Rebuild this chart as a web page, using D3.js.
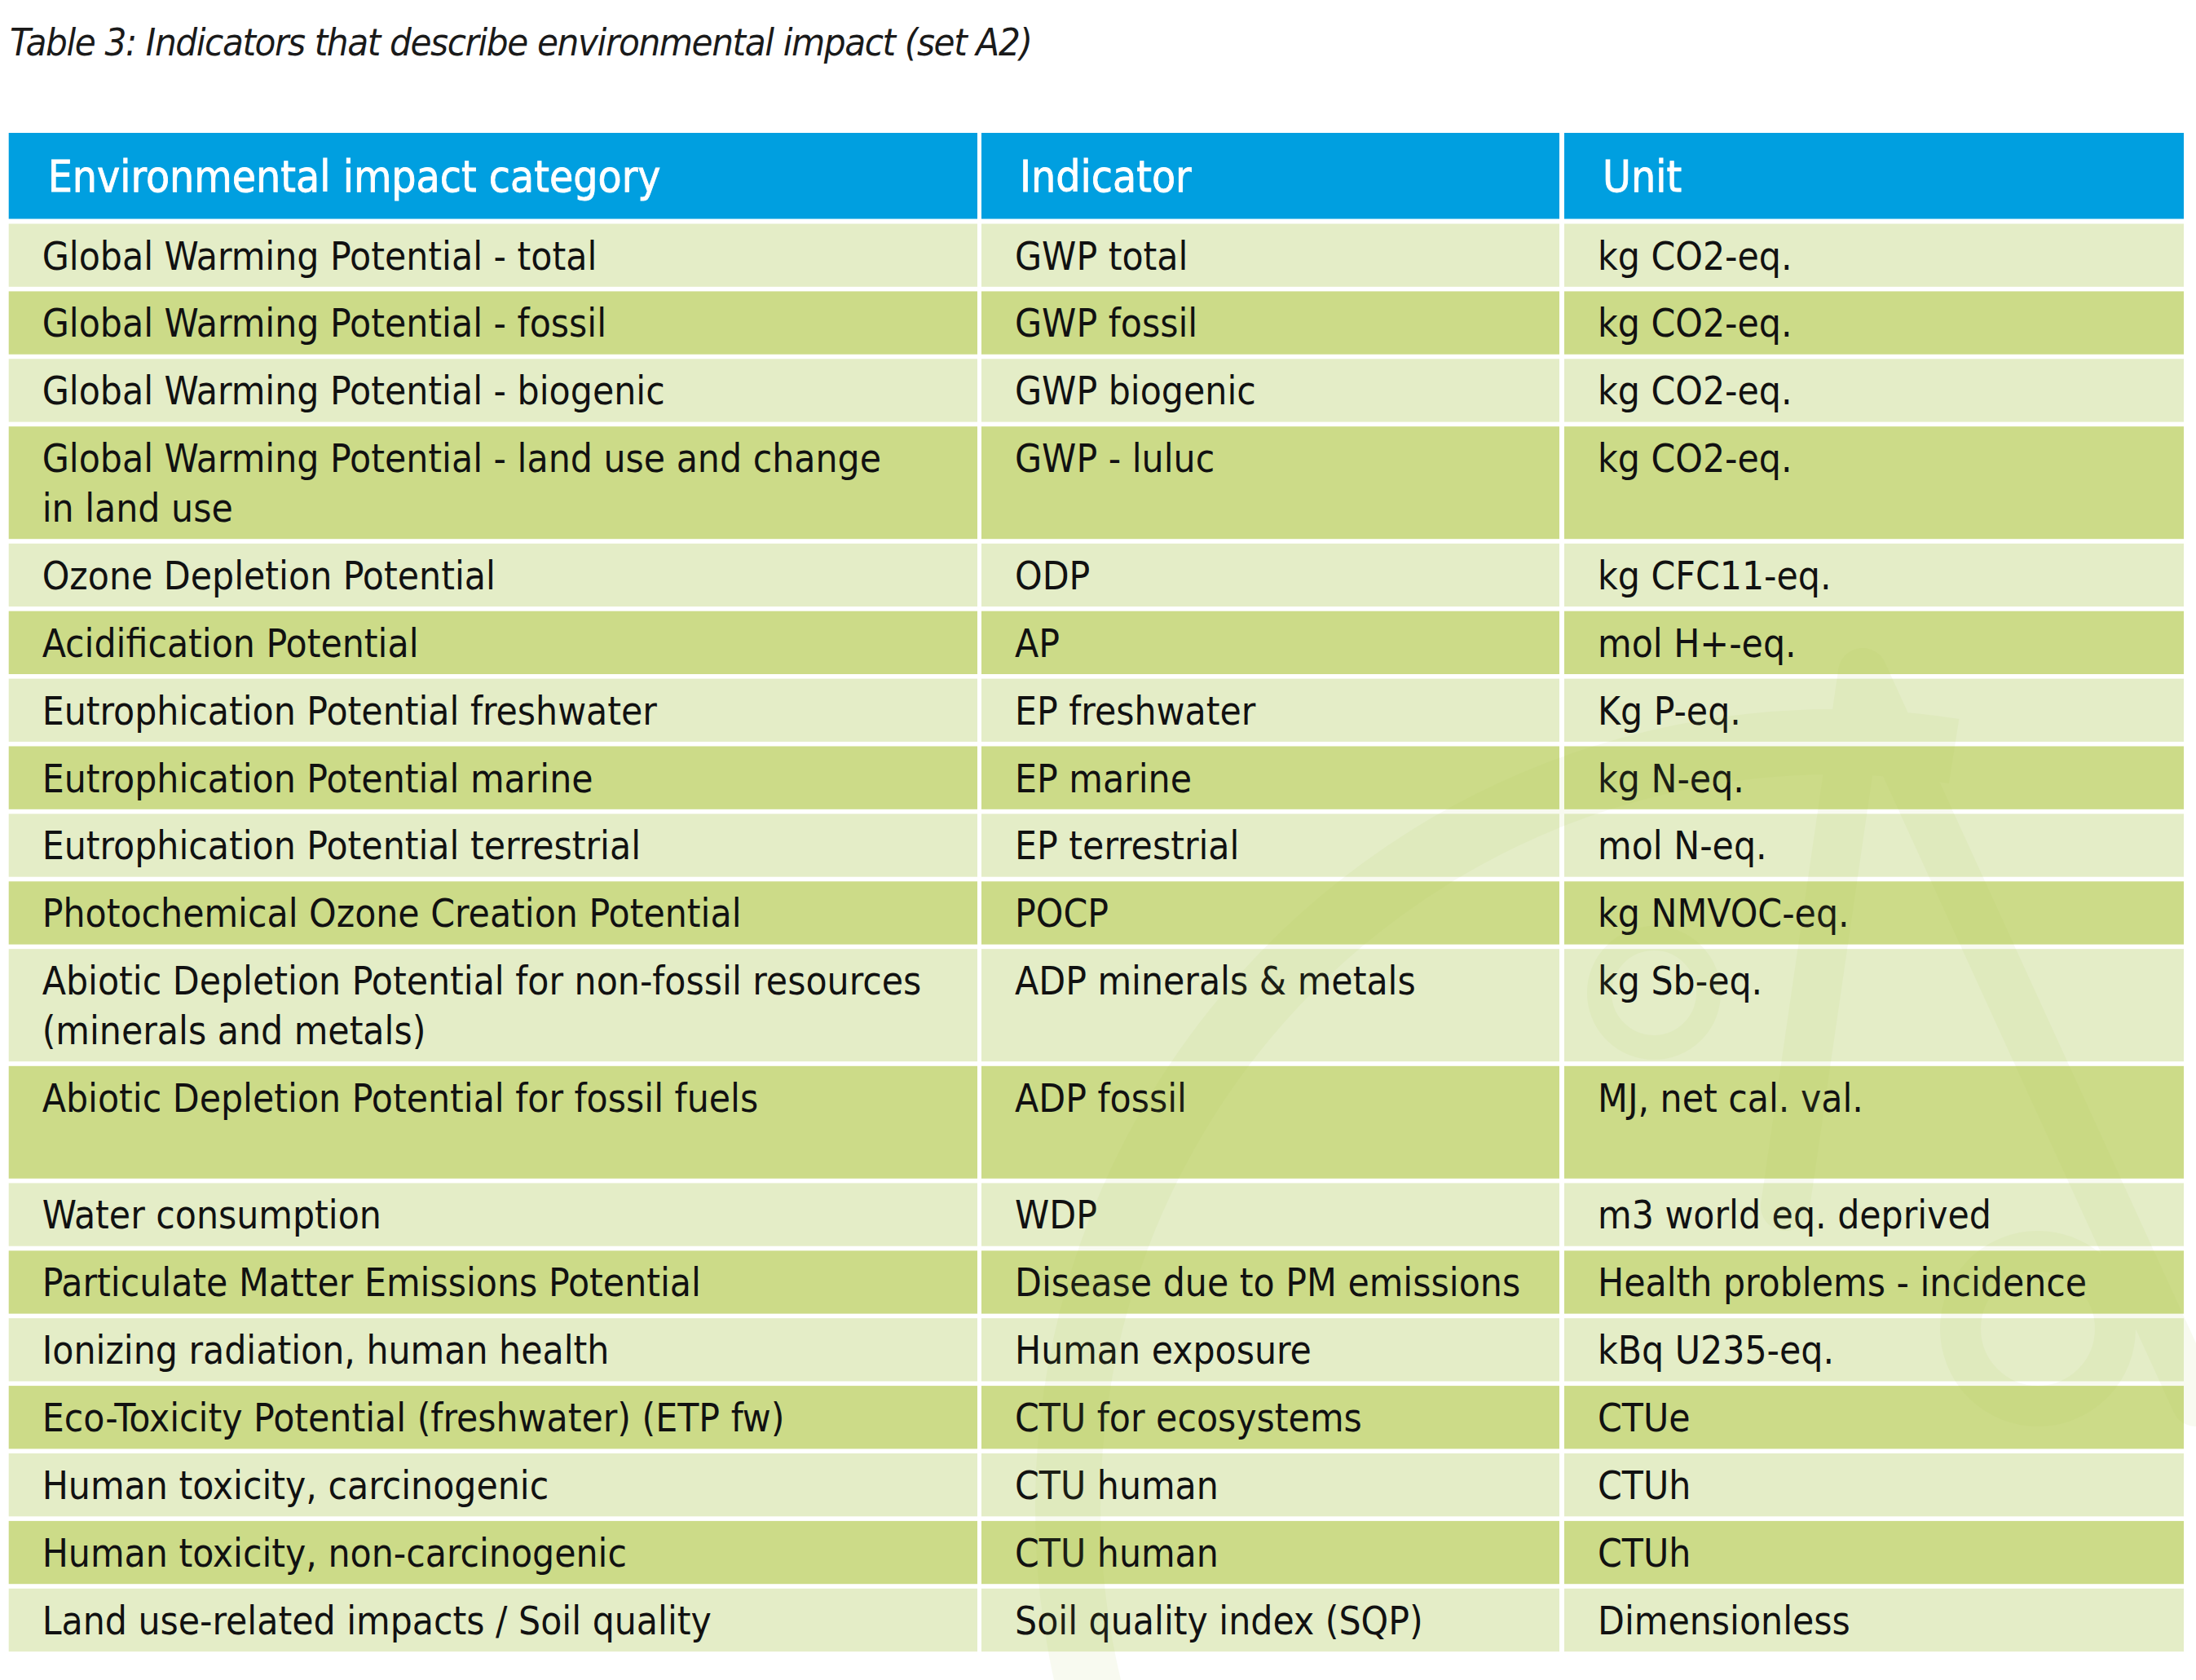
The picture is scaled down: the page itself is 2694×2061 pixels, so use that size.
<!DOCTYPE html>
<html>
<head>
<meta charset="utf-8">
<script src="https://cdn.jsdelivr.net/npm/d3@7"></script>
<style>
  html, body { margin: 0; padding: 0; background: #fff; }
  svg { display: block; }
  .body-text { font-family: "DejaVu Sans Condensed", "DejaVu Sans", sans-serif; font-stretch: condensed; }
</style>
</head>
<body>
<div id="chart"></div>
<script>
// table content
const tableTitle = "Table 3: Indicators that describe environmental impact (set A2)";
const columns = ["Environmental impact category", "Indicator", "Unit"];

const categories = [
  "Global Warming Potential - total",
  "Global Warming Potential - fossil",
  "Global Warming Potential - biogenic",
  "Global Warming Potential - land use and change\nin land use",
  "Ozone Depletion Potential",
  "Acidification Potential",
  "Eutrophication Potential freshwater",
  "Eutrophication Potential marine",
  "Eutrophication Potential terrestrial",
  "Photochemical Ozone Creation Potential",
  "Abiotic Depletion Potential for non-fossil resources\n(minerals and metals)",
  "Abiotic Depletion Potential for fossil fuels\n",
  "Water consumption",
  "Particulate Matter Emissions Potential",
  "Ionizing radiation, human health",
  "Eco-Toxicity Potential (freshwater) (ETP fw)",
  "Human toxicity, carcinogenic",
  "Human toxicity, non-carcinogenic",
  "Land use-related impacts / Soil quality"
];

const indicators = [
  "GWP total", "GWP fossil", "GWP biogenic", "GWP - luluc", "ODP", "AP",
  "EP freshwater", "EP marine", "EP terrestrial", "POCP", "ADP minerals & metals",
  "ADP fossil", "WDP", "Disease due to PM emissions", "Human exposure",
  "CTU for ecosystems", "CTU human", "CTU human", "Soil quality index (SQP)"
];

const units = [
  "kg CO2-eq.", "kg CO2-eq.", "kg CO2-eq.", "kg CO2-eq.", "kg CFC11-eq.", "mol H+-eq.",
  "Kg P-eq.", "kg N-eq.", "mol N-eq.", "kg NMVOC-eq.", "kg Sb-eq.", "MJ, net cal. val.",
  "m3 world eq. deprived", "Health problems - incidence", "kBq U235-eq.",
  "CTUe", "CTUh", "CTUh", "Dimensionless"
];

// layout
const W = 2694, H = 2061;
const colEdges = [[10.7, 1199], [1204, 1913], [1919, 2679]];
const headerTop = 163, headerH = 105.5;
const bodyTop = 274.5;
const rowBase = 77.3, lineH = 60.7, gap = 5.6;
const textPad = 41, headPad = [48, 47, 47];

const rows = categories.map((c, i) => {
  const cells = [c, indicators[i], units[i]].map(t => t.split("\n"));
  const lines = d3.max(cells, l => l.length);
  return { i, cells, lines };
});

// cumulative row positions
let yCursor = bodyTop;
rows.forEach(r => {
  r.y = yCursor;
  r.h = rowBase + (r.lines - 1) * lineH;
  yCursor += r.h + gap;
});

const svg = d3.select("#chart").append("svg")
  .attr("width", W)
  .attr("height", H);

// title
svg.append("text")
  .attr("x", 12)
  .attr("y", 68)
  .style("font-family", "'DejaVu Sans Condensed', 'DejaVu Sans', sans-serif")
  .style("font-stretch", "condensed")
  .style("font-style", "italic")
  .style("font-size", "47px")
  .style("letter-spacing", "-1.4px")
  .attr("fill", "#1a1a1a")
  .text(tableTitle);

// header cells
const head = svg.append("g").attr("class", "header");
head.selectAll("rect")
  .data(columns)
  .enter().append("rect")
  .attr("x", (d, j) => colEdges[j][0])
  .attr("y", headerTop)
  .attr("width", (d, j) => colEdges[j][1] - colEdges[j][0])
  .attr("height", headerH)
  .attr("fill", "#009fe0");

head.selectAll("text")
  .data(columns)
  .enter().append("text")
  .attr("class", "body-text")
  .attr("x", (d, j) => colEdges[j][0] + headPad[j])
  .attr("y", headerTop + 72)
  .attr("fill", "#fff")
  .attr("stroke", "#fff")
  .attr("stroke-width", 0.8)
  .style("font-size", "53px")
  .text(d => d);

// body rows
const rowG = svg.append("g").attr("class", "rows")
  .selectAll("g")
  .data(rows)
  .enter().append("g")
  .attr("transform", d => `translate(0,${d.y})`);

rowG.selectAll("rect")
  .data(d => d.cells.map((c, j) => ({ j, h: d.h, alt: d.i % 2 === 1 })))
  .enter().append("rect")
  .attr("x", d => colEdges[d.j][0])
  .attr("width", d => colEdges[d.j][1] - colEdges[d.j][0])
  .attr("height", d => d.h)
  .attr("fill", d => d.alt ? "#ccdb88" : "#e4edc7");

// faint watermark over the lower right of the table
const mark = svg.append("g")
  .attr("class", "watermark")
  .attr("fill", "none")
  .attr("stroke", "#a9c94a")
  .attr("opacity", 0.075);

mark.append("path")
  .attr("d", d3.arc()({ innerRadius: 900, outerRadius: 980, startAngle: -Math.PI * 0.62, endAngle: Math.PI * 0.05 }))
  .attr("transform", "translate(2250,1850)")
  .attr("fill", "#a9c94a")
  .attr("stroke", "none");

mark.append("circle")
  .attr("cx", 2029).attr("cy", 1218).attr("r", 67)
  .attr("stroke-width", 30);

mark.append("circle")
  .attr("cx", 2500).attr("cy", 1630).attr("r", 95)
  .attr("stroke-width", 50);

mark.append("path")
  .attr("d", "M2285,825 L2190,1480 M2285,825 L2694,1720")
  .attr("stroke-width", 60)
  .attr("stroke-linecap", "round");

// cell text
rowG.selectAll("text")
  .data(d => d.cells.map((lines, j) => ({ j, lines })))
  .enter().append("text")
  .attr("class", "body-text")
  .attr("x", d => colEdges[d.j][0] + textPad)
  .attr("y", 56)
  .attr("fill", "#111")
  .style("font-size", "47.5px")
  .selectAll("tspan")
  .data(d => d.lines.map(l => ({ l, x: colEdges[d.j][0] + textPad })))
  .enter().append("tspan")
  .attr("x", d => d.x)
  .attr("dy", (d, k) => k === 0 ? 0 : lineH)
  .text(d => d.l);
</script>
</body>
</html>
